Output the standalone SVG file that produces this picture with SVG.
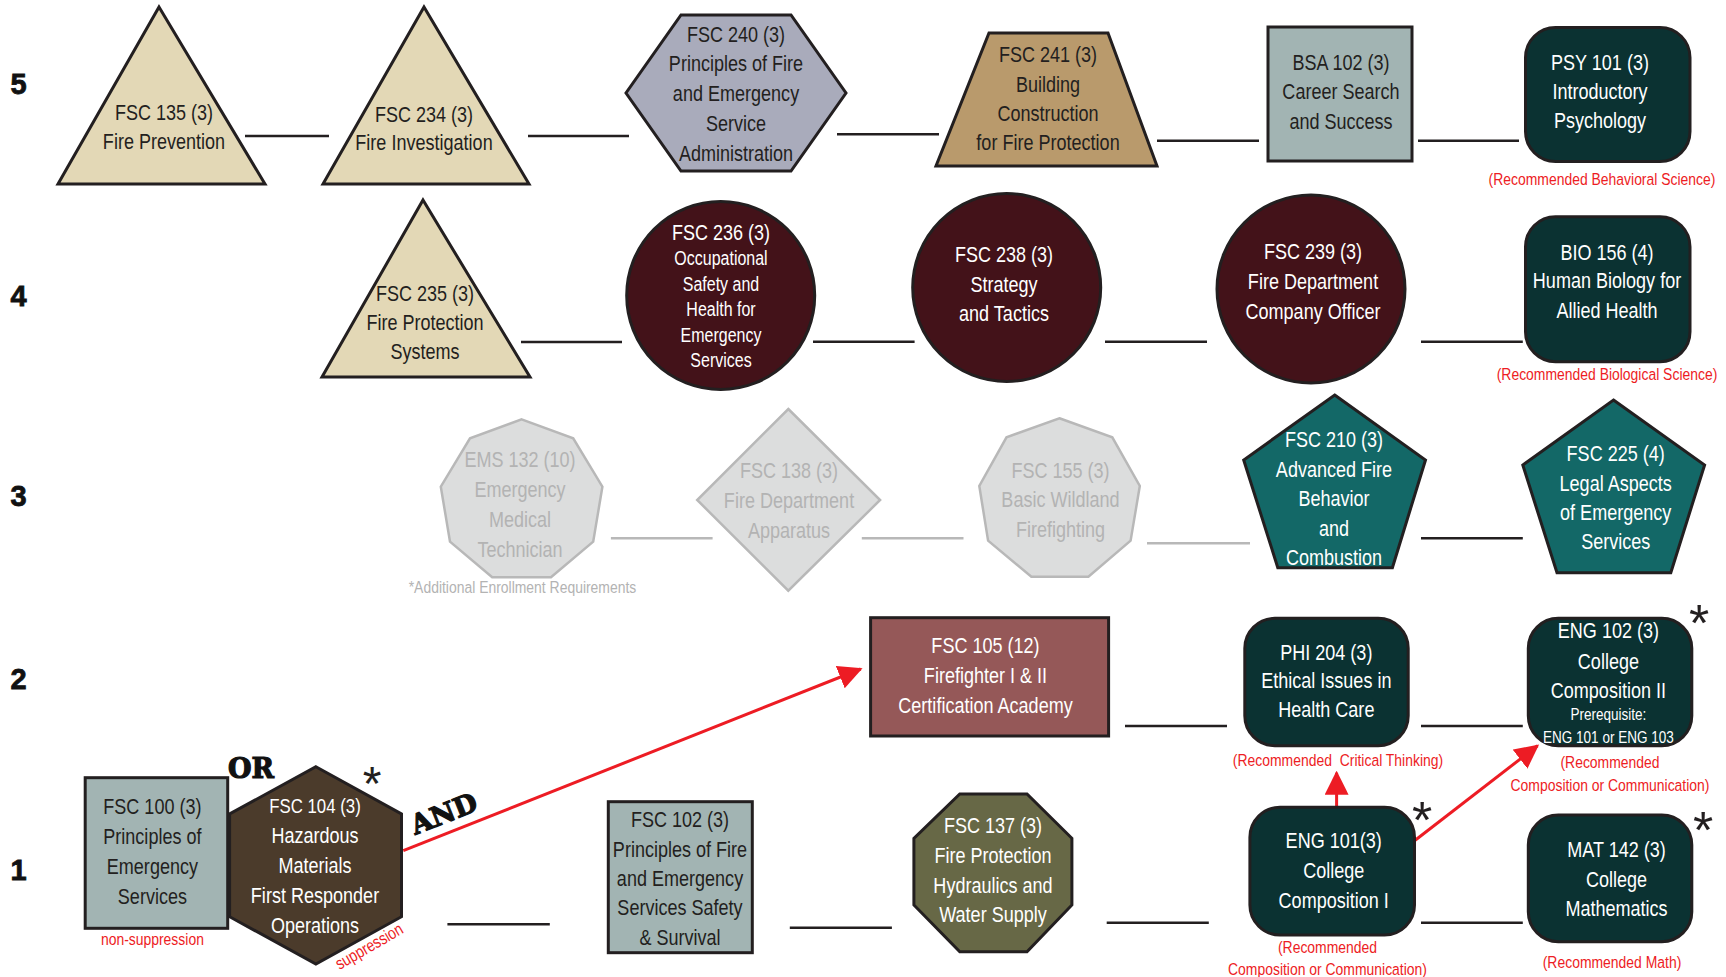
<svg xmlns="http://www.w3.org/2000/svg" width="1726" height="977" viewBox="0 0 1726 977">
<style>
.t{font-family:"Liberation Sans",Arial,sans-serif;font-size:22px;text-anchor:middle}
.s{font-size:19.5px}
.xs{font-size:16.5px}
.w{fill:#ffffff}
.d{fill:#231f20}
.g{fill:#b3b3b3}
.r{fill:#ed1c24;font-size:17px}
.row{font-family:"Liberation Sans",Arial,sans-serif;font-weight:bold;font-size:29px;fill:#111;stroke:#111;stroke-width:0.8;text-anchor:middle}
.ast{font-family:"Liberation Sans",Arial,sans-serif;font-size:52px;fill:#231f20;text-anchor:middle}
.slab{font-family:"DejaVu Serif","Liberation Serif",serif;font-weight:900;font-size:27px;fill:#111;stroke:#111;stroke-width:1.2;text-anchor:middle}
.k{stroke:#231f20;stroke-width:3;stroke-linejoin:miter}
.gh{fill:#dcdddd;stroke:#b8b8b8;stroke-width:2.5}
.ln{stroke:#231f20;stroke-width:2.5;fill:none}
.lg{stroke:#b8b8b8;stroke-width:2.5;fill:none}
.ar{stroke:#ed1c24;stroke-width:3;fill:none;marker-end:url(#ah)}
</style>
<defs>
<marker id="ah" viewBox="0 0 24 24" refX="22" refY="12" markerWidth="24" markerHeight="24" markerUnits="userSpaceOnUse" orient="auto">
<path d="M0,0 L24,12 L0,24 z" fill="#ed1c24"/>
</marker>
</defs>
<rect width="1726" height="977" fill="#ffffff"/>

<g id="row-labels">
<text class="row" x="18.5" y="94">5</text>
<text class="row" x="18.5" y="306">4</text>
<text class="row" x="18.5" y="506">3</text>
<text class="row" x="18.5" y="689">2</text>
<text class="row" x="18.5" y="880">1</text>
</g>

<g id="connectors">
<line class="ln" x1="245" y1="136" x2="329" y2="136"/>
<line class="ln" x1="528" y1="136" x2="629" y2="136"/>
<line class="ln" x1="837" y1="134.3" x2="939" y2="134.3"/>
<line class="ln" x1="1157" y1="140.7" x2="1259" y2="140.7"/>
<line class="ln" x1="1418" y1="140.7" x2="1519" y2="140.7"/>
<line class="ln" x1="521" y1="342" x2="622" y2="342"/>
<line class="ln" x1="813" y1="341.7" x2="914.6" y2="341.7"/>
<line class="ln" x1="1105" y1="341.7" x2="1207" y2="341.7"/>
<line class="ln" x1="1421" y1="341.7" x2="1522.8" y2="341.7"/>
<line class="lg" x1="610.9" y1="538.3" x2="712.6" y2="538.3"/>
<line class="lg" x1="861.8" y1="538.3" x2="963.5" y2="538.3"/>
<line class="lg" x1="1147" y1="543.3" x2="1250" y2="543.3"/>
<line class="ln" x1="1421" y1="538.3" x2="1522.8" y2="538.3"/>
<line class="ln" x1="1125" y1="726" x2="1227" y2="726"/>
<line class="ln" x1="1421" y1="726" x2="1522.8" y2="726"/>
<line class="ln" x1="447.4" y1="924.3" x2="549.8" y2="924.3"/>
<line class="ln" x1="789.8" y1="927.7" x2="891.9" y2="927.7"/>
<line class="ln" x1="1106.7" y1="922.7" x2="1208.8" y2="922.7"/>
<line class="ln" x1="1421" y1="922.7" x2="1522.8" y2="922.7"/>
<line class="ar" x1="403.3" y1="850.7" x2="860.7" y2="669"/>
<line class="ar" x1="1336.6" y1="806.7" x2="1336.6" y2="772.7"/>
<line class="ar" x1="1414.5" y1="840.7" x2="1537.5" y2="745.7"/>
</g>

<g id="fsc135">
<polygon class="k" points="159,7 265,184 58,184" fill="#e3d8b6"/>
<g transform="translate(164 0) scale(0.82 1)"><text class="t d" y="120">FSC 135 (3)</text><text class="t d" y="149">Fire Prevention</text></g>
</g>
<g id="fsc234">
<polygon class="k" points="424,7 529,184 323,184" fill="#e3d8b6"/>
<g transform="translate(424 0) scale(0.82 1)"><text class="t d" y="122">FSC 234 (3)</text><text class="t d" y="150">Fire Investigation</text></g>
</g>
<g id="fsc235">
<polygon class="k" points="423,200 530,377 322,377" fill="#e3d8b6"/>
<g transform="translate(425 0) scale(0.82 1)"><text class="t d" y="301">FSC 235 (3)</text><text class="t d" y="330">Fire Protection</text><text class="t d" y="359">Systems</text></g>
</g>
<g id="fsc240">
<polygon class="k" points="681,15 791,15 846,93 791,171 681,171 626,93" fill="#a9abbb"/>
<g transform="translate(736 0) scale(0.82 1)"><text class="t d" y="41.7">FSC 240 (3)</text><text class="t d" y="70.7">Principles of Fire</text><text class="t d" y="100.7">and Emergency</text><text class="t d" y="130.7">Service</text><text class="t d" y="160.7">Administration</text></g>
</g>
<g id="fsc241">
<polygon class="k" points="989,33 1108,33 1157,166 936,166" fill="#b99a6c"/>
<g transform="translate(1048 0) scale(0.82 1)"><text class="t d" y="61.7">FSC 241 (3)</text><text class="t d" y="91.7">Building</text><text class="t d" y="120.7">Construction</text><text class="t d" y="150">for Fire Protection</text></g>
</g>
<g id="bsa102">
<rect class="k" x="1268" y="27" width="144" height="134" fill="#a2b4b3"/>
<g transform="translate(1341 0) scale(0.82 1)"><text class="t d" y="70">BSA 102 (3)</text><text class="t d" y="99.3">Career Search</text><text class="t d" y="129">and Success</text></g>
</g>
<g id="psy101">
<rect class="k" x="1525.5" y="27.5" width="164.5" height="134" rx="30" fill="#0b3232"/>
<g transform="translate(1600 0) scale(0.82 1)"><text class="t w" y="70">PSY 101 (3)</text><text class="t w" y="99.3">Introductory</text><text class="t w" y="128.3">Psychology</text></g>
<g transform="translate(1602 0) scale(0.82 1)"><text class="t r" y="185">(Recommended Behavioral Science)</text></g>
</g>

<g id="fsc236">
<circle class="k" cx="720.7" cy="295.5" r="94" fill="#431219"/>
<g transform="translate(721 0) scale(0.82 1)"><text class="t w" y="240">FSC 236 (3)</text><text class="t s w" y="265">Occupational</text><text class="t s w" y="291">Safety and</text><text class="t s w" y="316">Health for</text><text class="t s w" y="342.5">Emergency</text><text class="t s w" y="367.5">Services</text></g>
</g>
<g id="fsc238">
<circle class="k" cx="1006.7" cy="287.5" r="94" fill="#431219"/>
<g transform="translate(1004 0) scale(0.82 1)"><text class="t w" y="261.7">FSC 238 (3)</text><text class="t w" y="291.7">Strategy</text><text class="t w" y="320.7">and Tactics</text></g>
</g>
<g id="fsc239">
<circle class="k" cx="1311" cy="289" r="94" fill="#431219"/>
<g transform="translate(1313 0) scale(0.82 1)"><text class="t w" y="259.3">FSC 239 (3)</text><text class="t w" y="289.3">Fire Department</text><text class="t w" y="319.3">Company Officer</text></g>
</g>
<g id="bio156">
<rect class="k" x="1525.5" y="216.7" width="164.5" height="145" rx="30" fill="#0b3232"/>
<g transform="translate(1607 0) scale(0.82 1)"><text class="t w" y="260">BIO 156 (4)</text><text class="t w" y="288.3">Human Biology for</text><text class="t w" y="318.3">Allied Health</text></g>
<g transform="translate(1607 0) scale(0.82 1)"><text class="t r" y="380">(Recommended Biological Science)</text></g>
</g>

<g id="ems132">
<polygon class="gh" points="521.6,419.3 573.2,438.3 602.4,486.7 593.2,541.7 551,577.3 492.2,577.3 450,541.7 440.8,486.7 470,438.3"/>
<g transform="translate(520 0) scale(0.82 1)"><text class="t g" y="466.7">EMS 132 (10)</text><text class="t g" y="496.7">Emergency</text><text class="t g" y="526.7">Medical</text><text class="t g" y="556.7">Technician</text></g>
<g transform="translate(522.5 0) scale(0.82 1)"><text class="t g" style="font-size:17px" y="593.3">*Additional Enrollment Requirements</text></g>
</g>
<g id="fsc138">
<polygon class="gh" points="788.3,409 880.1,500 788.3,590.7 697.2,500"/>
<g transform="translate(789 0) scale(0.82 1)"><text class="t g" y="478.3">FSC 138 (3)</text><text class="t g" y="508.3">Fire Department</text><text class="t g" y="538.3">Apparatus</text></g>
</g>
<g id="fsc155">
<polygon class="gh" points="1059.4,418.3 1112.3,437.3 1139.8,486 1130.6,540.7 1088.4,576.7 1031.4,576.7 988.1,540.7 979.3,486 1006.5,437.3"/>
<g transform="translate(1060.5 0) scale(0.82 1)"><text class="t g" y="478.3">FSC 155 (3)</text><text class="t g" y="506.7">Basic Wildland</text><text class="t g" y="536.7">Firefighting</text></g>
</g>
<g id="fsc210">
<polygon class="k" points="1334.7,395 1425.5,460 1392.4,567.7 1277.8,567.7 1243.7,460" fill="#136867"/>
<g transform="translate(1334 0) scale(0.82 1)"><text class="t w" y="447.3">FSC 210 (3)</text><text class="t w" y="476.7">Advanced Fire</text><text class="t w" y="506">Behavior</text><text class="t w" y="535.7">and</text><text class="t w" y="565">Combustion</text></g>
</g>
<g id="fsc225">
<polygon class="k" points="1613.5,400 1704.6,465 1670.8,572.7 1557,572.7 1522.8,465" fill="#136867"/>
<g transform="translate(1615.7 0) scale(0.82 1)"><text class="t w" y="460.7">FSC 225 (4)</text><text class="t w" y="490.7">Legal Aspects</text><text class="t w" y="520">of Emergency</text><text class="t w" y="549.3">Services</text></g>
</g>

<g id="fsc105">
<rect class="k" x="870.6" y="617.7" width="238" height="118.3" fill="#955858"/>
<g transform="translate(985.5 0) scale(0.82 1)"><text class="t w" y="653.3">FSC 105 (12)</text><text class="t w" y="683.3">Firefighter I &amp; II</text><text class="t w" y="713.3">Certification Academy</text></g>
</g>
<g id="phi204">
<rect class="k" x="1244.8" y="618.3" width="163.4" height="127.4" rx="30" fill="#0b3232"/>
<g transform="translate(1326.3 0) scale(0.82 1)"><text class="t w" y="660">PHI 204 (3)</text><text class="t w" y="688.3">Ethical Issues in</text><text class="t w" y="717.3">Health Care</text></g>
<g transform="translate(1338 0) scale(0.82 1)"><text class="t r" y="765.7">(Recommended&#160; Critical Thinking)</text></g>
</g>
<g id="eng102">
<rect class="k" x="1528.3" y="618.3" width="163.5" height="127.4" rx="30" fill="#0b3232"/>
<g transform="translate(1608.4 0) scale(0.82 1)"><text class="t w" y="638.3">ENG 102 (3)</text><text class="t w" y="669.3">College</text><text class="t w" y="698.3">Composition II</text><text class="t xs w" y="720">Prerequisite:</text><text class="t xs w" y="742.7">ENG 101 or ENG 103</text></g>
<g transform="translate(1610 0) scale(0.82 1)"><text class="t r" y="768.3">(Recommended</text><text class="t r" y="791">Composition or Communication)</text></g>
<text class="ast" x="1699" y="641">*</text>
</g>

<g id="fsc100">
<rect class="k" x="85.2" y="777.7" width="142.5" height="150.6" fill="#a2b4b3"/>
<g transform="translate(152.4 0) scale(0.82 1)"><text class="t d" y="814">FSC 100 (3)</text><text class="t d" y="844">Principles of</text><text class="t d" y="874">Emergency</text><text class="t d" y="904">Services</text></g>
<g transform="translate(152.4 0) scale(0.82 1)"><text class="t r" y="945">non-suppression</text></g>
</g>
<g id="or-label">
<text class="slab" x="251" y="778">OR</text>
</g>
<g id="fsc104">
<polygon class="k" points="315.9,766.7 401.5,814 401.5,916.7 315.9,964 229.6,916.7 229.6,814" fill="#4b3b2b"/>
<g transform="translate(315 0) scale(0.82 1)"><text class="t w" style="font-size:20.5px" y="813.3">FSC 104 (3)</text><text class="t w" y="843.3">Hazardous</text><text class="t w" y="873.3">Materials</text><text class="t w" y="903.3">First Responder</text><text class="t w" y="932.7">Operations</text></g>
<g transform="translate(369 946) rotate(-30) scale(0.82 1)"><text class="t r" y="6">suppression</text></g>
<text class="ast" style="font-size:48px" x="372" y="800">*</text>
</g>
<g id="and-label">
<text class="slab" transform="translate(444 814) rotate(-21.7)" x="0" y="9">AND</text>
</g>
<g id="fsc102">
<rect class="k" x="608.3" y="801.7" width="144" height="151" fill="#a2b4b3"/>
<g transform="translate(680 0) scale(0.82 1)"><text class="t d" y="826.7">FSC 102 (3)</text><text class="t d" y="856.7">Principles of Fire</text><text class="t d" y="886">and Emergency</text><text class="t d" y="915">Services Safety</text><text class="t d" y="945">&amp; Survival</text></g>
</g>
<g id="fsc137">
<polygon class="k" points="959.8,794 1027,794 1071.9,838.3 1071.9,905 1027,951.7 959.8,951.7 913.9,905 913.9,838.3" fill="#676846"/>
<g transform="translate(993 0) scale(0.82 1)"><text class="t w" y="833.3">FSC 137 (3)</text><text class="t w" y="862.7">Fire Protection</text><text class="t w" y="892.7">Hydraulics and</text><text class="t w" y="921.7">Water Supply</text></g>
</g>
<g id="eng101">
<rect class="k" x="1249.9" y="807.3" width="164.6" height="127.7" rx="30" fill="#0b3232"/>
<g transform="translate(1333.7 0) scale(0.82 1)"><text class="t w" y="848.3">ENG 101(3)</text><text class="t w" y="878.3">College</text><text class="t w" y="908.3">Composition I</text></g>
<g transform="translate(1327.5 0) scale(0.82 1)"><text class="t r" y="952.7">(Recommended</text><text class="t r" y="975">Composition or Communication)</text></g>
<text class="ast" x="1422" y="838">*</text>
</g>
<g id="mat142">
<rect class="k" x="1528.3" y="815" width="163.5" height="126.7" rx="30" fill="#0b3232"/>
<g transform="translate(1616.5 0) scale(0.82 1)"><text class="t w" y="856.7">MAT 142 (3)</text><text class="t w" y="886.7">College</text><text class="t w" y="916">Mathematics</text></g>
<g transform="translate(1612 0) scale(0.82 1)"><text class="t r" y="968.3">(Recommended Math)</text></g>
<text class="ast" x="1703" y="848">*</text>
</g>
</svg>
